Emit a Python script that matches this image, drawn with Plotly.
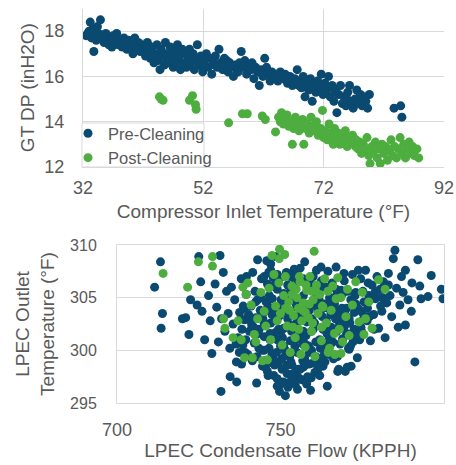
import plotly.graph_objects as go

# ---------------- Top chart: GT DP vs Compressor Inlet Temperature ----------------
pre_cit = [32.5, 32.8, 33.0, 33.2, 33.4, 33.6, 33.8, 34.0, 34.2, 34.4, 34.6, 34.9, 35.2, 35.5, 35.8, 36.0, 36.3, 36.5,
           36.8, 37.0, 37.3, 37.6, 37.9, 38.2, 38.5, 38.8, 39.0, 39.3, 39.6, 40.0, 40.3, 40.6, 40.9, 41.2, 41.5, 41.8,
           42.1, 42.4, 42.7, 43.0, 43.2, 43.5, 43.8, 44.0, 44.3, 44.5, 44.8, 45.0, 45.2, 45.5, 45.7, 46.0, 46.2, 46.5,
           46.7, 47.0, 47.2, 47.5, 47.7, 48.0, 48.2, 48.5, 48.7, 49.0, 49.2, 49.5, 49.7, 50.0, 50.3, 50.5,
           50.8, 51.0, 51.3, 51.6, 51.9, 52.2, 52.5, 52.8, 53.1, 53.4, 53.7, 54.0, 54.3, 54.6, 54.9, 55.2, 55.5, 55.8,
           56.1, 56.4, 56.7, 57.0, 57.3, 57.6,
           58.0, 58.3, 58.6, 58.9, 59.2, 59.5, 59.8, 60.1, 60.4, 60.7, 61.0, 61.3, 61.6, 61.9, 62.2, 62.5, 62.8, 63.1,
           63.4, 63.7,
           64.0, 64.4, 64.8, 65.2, 65.6, 66.0, 66.4, 66.8, 67.2, 67.6, 68.0, 68.3, 68.6, 68.9, 69.2, 69.5, 69.8, 70.1,
           70.4, 70.7, 71.0, 71.3, 71.6, 71.9,
           72.2, 72.5, 72.8, 73.1, 73.4, 73.7, 74.0, 74.2, 74.5, 74.8, 75.1, 75.4, 75.7, 76.0, 76.3, 76.6, 76.9, 77.2,
           77.5, 77.8, 78.1, 78.4, 78.7, 79.0, 79.3, 79.6,
           83.7, 84.8, 85.0,
           34.6, 37.2, 39.8, 41.0, 43.6, 45.9, 47.9, 49.9, 52.0, 53.9, 55.9, 57.8, 59.9, 61.8, 63.9, 65.9, 67.9, 69.9,
           71.8, 73.9, 75.9, 77.9]
pre_dp = [17.8, 17.9, 18.0, 18.4, 17.7, 18.1, 17.1, 17.9, 17.6, 18.2, 17.8, 18.5, 17.7, 17.5, 17.9, 17.6, 17.4, 17.7,
          17.3, 17.8, 17.5, 17.9, 17.4, 17.6, 17.3, 17.7, 17.5, 17.2, 17.6, 17.4, 17.0, 17.7, 17.3, 17.5, 17.1, 17.4,
          17.2, 16.9, 17.5, 17.1, 16.8, 17.3, 16.6, 17.0, 17.4, 16.7, 16.3, 17.2, 16.9, 16.5, 17.5, 17.0, 16.6, 17.3,
          16.8, 16.4, 17.1, 16.7, 17.4, 16.9, 16.3, 17.2, 16.6, 17.0, 16.4, 16.8, 17.2, 16.6, 17.0, 16.3,
          16.8, 17.4, 16.5, 16.9, 16.2, 16.7, 17.0, 16.4, 16.8, 16.1, 16.6, 16.9, 16.4, 17.2, 16.6, 16.3, 16.8, 16.5,
          16.2, 16.6, 16.4, 16.0, 16.5, 16.3,
          16.6, 17.1, 16.4, 16.7, 16.1, 16.5, 16.3, 16.6, 15.9, 16.4, 16.2, 15.6, 16.3, 16.0, 16.8, 16.4, 16.1, 15.8,
          16.2, 16.0,
          16.1, 15.8, 16.2, 15.9, 16.1, 15.7, 16.0, 15.6, 15.9, 16.3, 15.8, 15.5, 16.0, 15.1, 15.7, 15.4, 15.9, 14.9,
          15.6, 15.3, 15.8, 15.5, 16.1, 15.2,
          15.7, 15.4, 16.0, 15.1, 15.6, 14.9, 15.4, 14.4, 15.2, 15.6, 14.8, 15.1, 14.7, 15.3, 15.6, 14.9, 14.6, 15.0,
          15.4, 14.8, 15.2, 14.7, 15.1, 14.9, 14.6, 15.2,
          14.6, 14.7, 14.2,
          17.9, 17.6, 17.3, 17.2, 16.9, 16.8, 16.5, 16.9, 16.4, 16.5, 16.7, 16.2, 16.3, 16.1, 15.9, 15.9, 15.6, 15.5,
          15.4, 15.3, 15.0, 14.9]

post_cit = [44.7, 45.0, 45.3, 49.7, 50.2, 50.7, 50.8, 56.2, 58.5, 59.3, 61.8, 62.3, 64.0,
            64.5, 64.8, 65.0, 65.3, 65.6, 65.9, 66.2, 66.5, 66.8, 67.0, 67.3, 67.6, 67.9, 68.2, 68.5, 68.7, 69.0,
            69.3, 69.6, 69.9, 70.2, 70.5, 70.8, 71.1, 71.5, 71.8, 72.0,
            72.3, 72.6, 72.9, 73.2, 73.5, 73.8, 74.1, 74.4, 74.7, 75.0, 75.3, 75.6, 75.9, 76.2, 76.5, 76.8, 77.1,
            77.4, 77.7, 78.0,
            78.3, 78.6, 78.9, 79.2, 79.5, 79.7, 80.0, 80.3, 80.6, 80.9, 81.2, 81.4, 81.7, 82.0, 82.3, 82.6, 82.9,
            83.2, 83.5, 83.8, 84.1, 84.4, 84.7, 85.0, 85.3, 85.6, 85.9, 86.2, 86.5, 86.8, 87.1, 87.5, 87.8,
            72.8, 73.6, 74.9, 76.1, 77.3, 78.8, 80.8, 83.0]
post_dp = [15.1, 15.0, 14.95, 14.95, 15.15, 14.75, 14.55, 13.95, 14.35, 14.35, 14.25, 14.1, 13.55,
           14.2, 14.0, 14.4, 13.9, 14.1, 14.3, 13.8, 14.0, 13.0, 13.7, 14.2, 13.9, 13.6, 13.8, 14.1, 13.0, 13.7,
           13.9, 13.5, 14.2, 13.8, 13.6, 14.0, 13.4, 13.7, 14.5, 13.3,
           13.6, 13.2, 13.9, 13.4, 13.1, 13.7, 13.3, 13.5, 13.0, 13.4, 13.2, 13.6, 12.9, 13.3, 13.1, 13.4, 13.0,
           13.2, 12.8, 13.1,
           12.6, 13.0, 12.8, 13.3, 12.5, 12.15, 12.9, 12.7, 13.1, 12.4, 12.8, 12.15, 13.0, 12.6, 12.9, 12.3, 12.7,
           13.2, 12.5, 12.9, 12.4, 12.8, 13.3, 12.6, 13.0, 12.4, 12.8, 13.1, 12.6, 12.9, 12.5, 12.8, 12.4,
           13.5, 13.0, 13.2, 13.0, 12.9, 12.7, 12.9, 12.8]

# ---------------- Bottom chart: LPEC Outlet Temperature vs Condensate Flow ----------------
pre_flow = [711.5, 713.3, 713.9, 713.5, 720.0, 721.0, 722.0, 722.5, 725.0, 725.6, 726.0, 726.8, 724.5, 728.0,
            728.5, 729.0, 730.0, 730.5, 731.0, 731.5, 731.8, 732.0, 732.5, 733.0, 733.5, 734.0, 734.5, 735.0,
            735.5, 736.0, 736.5, 737.0, 737.5, 738.0, 738.1, 738.5, 739.0, 739.5, 740.0, 740.5, 741.0, 741.5,
            742.0, 742.5, 742.7, 743.0, 743.5, 744.0, 744.5, 745.0, 734.6, 736.6,
            745.5, 746.0, 746.2, 746.5, 747.0, 747.0, 747.5, 748.0, 748.5, 748.5, 749.0, 749.0, 749.5, 749.7,
            750.0, 750.0, 750.5, 751.0, 751.0, 751.5, 751.5, 752.0, 752.0, 752.5, 753.0, 753.0, 753.5, 754.0,
            754.0, 754.5, 755.0, 755.0, 755.5, 756.0, 756.0, 756.5, 757.0, 757.0, 757.4, 757.5, 758.0, 758.0,
            758.5, 758.8, 759.0, 759.5, 760.0, 760.0, 760.5, 761.0, 761.0, 761.5, 762.0, 762.5, 763.0, 763.0,
            763.5, 764.0, 764.3, 764.5, 765.0, 765.0,
            750.8, 752.3, 753.8, 755.2, 756.6, 758.3, 759.2, 753.2, 756.8,
            765.5, 766.0, 766.5, 767.0, 767.5, 768.0, 768.5, 769.0, 769.5, 770.0, 770.4, 771.0, 771.5, 772.0,
            772.5, 773.0, 773.5, 774.0, 774.5, 775.0, 775.5, 776.0, 776.5, 777.0, 777.5, 778.0, 778.5, 779.0,
            779.5, 780.0, 780.5, 781.0, 781.5, 782.0, 782.5, 783.0, 783.5, 784.0, 784.5, 785.0,
            785.5, 786.0, 786.5, 787.0, 787.5, 788.2, 788.2, 789.0, 790.0, 790.2, 791.1, 792.0, 792.6, 793.0,
            795.1, 796.1, 799.2, 799.7,
            747.8, 749.2, 750.6, 752.8, 754.6, 755.8, 757.8, 759.6, 761.8, 762.8, 764.6, 766.8, 768.8, 770.6,
            772.6, 774.6, 776.6, 778.6, 780.6, 744.6, 742.4, 740.6, 738.6, 746.6, 748.6, 751.8, 754.2, 762.4,
            765.8, 769.4, 773.8, 776.8, 739.6, 745.8,
            766.2, 767.8, 769.8, 771.6, 745.2, 747.6, 760.8, 763.6, 767.2, 770.8, 741.8, 744.2,
            741.2, 743.2, 745.0, 746.8, 748.2, 750.2, 752.2, 754.4, 756.4, 758.6, 760.4, 762.2, 764.2, 766.4,
            768.2, 770.2, 772.2, 774.2, 743.8, 745.6, 747.4, 749.4, 751.4, 753.4, 755.4, 757.2, 759.4, 761.4,
            763.4, 765.4, 767.4, 769.2, 771.2, 773.2, 775.2, 777.2, 779.2, 781.2, 748.2, 750.4, 752.6, 754.8,
            756.8, 758.8, 760.6, 762.6, 746.4, 759.8, 737.8, 739.2,
            736.4, 738.2, 740.2, 742.2, 744.2, 746.2, 748.2, 750.2, 752.2, 754.2, 756.2, 758.2, 760.2, 762.2,
            764.2, 766.2, 768.2, 770.2,
            737.4, 739.4, 741.4, 743.4, 745.4, 747.4, 749.4, 751.4, 753.4, 755.4, 757.4, 759.4, 761.4, 763.4,
            765.4, 767.4, 769.4, 771.4, 773.4, 775.4,
            745.0, 747.0, 749.0, 751.0, 753.0, 755.0, 757.0, 759.0, 761.0, 763.0, 765.0, 767.0, 769.0, 771.0,
            773.0, 775.0, 777.0, 779.0, 781.0, 783.0,
            740.8, 742.8, 744.8, 746.8, 748.8, 750.8, 752.8, 754.8, 756.8, 758.8, 760.8, 762.8, 764.8, 766.8,
            768.8, 770.8, 772.8, 774.8,
            739.0, 741.0, 743.0, 745.0, 747.0, 749.0, 751.0, 753.0, 755.0, 757.0, 759.0, 761.0, 763.0, 765.0,
            767.0, 769.0,
            746.0, 748.0, 750.0, 752.0, 754.0, 756.0, 758.0, 760.0, 762.0, 749.0, 751.5, 754.5, 757.5]
pre_temp = [306.0, 308.4, 303.5, 302.1, 303.0, 303.1, 301.5, 304.8, 308.9, 306.5, 303.7, 301.0, 304.3, 305.2,
            302.8, 299.7, 306.3, 304.1, 300.8, 309.0, 296.1, 303.0, 307.4, 301.8, 305.6, 303.5, 300.2, 306.0,
            302.5, 304.8, 298.9, 301.2, 303.6, 306.8, 298.7, 300.5, 302.9, 305.3, 299.6, 301.8, 304.2, 307.4,
            300.7, 303.1, 296.9, 308.6, 302.0, 305.0, 298.5, 301.3, 297.5, 297.0,
            303.8, 306.3, 297.6, 300.2, 308.2, 302.6, 304.9, 299.1, 308.9, 301.7, 305.8, 297.3, 303.2, 296.1,
            300.4, 306.9, 298.2, 302.1, 304.6, 295.7, 299.5, 307.3, 297.8, 303.5, 300.9, 305.6, 298.6, 302.4,
            297.0, 306.6, 304.1, 299.8, 297.4, 301.5, 307.8, 303.0, 298.4, 305.2, 308.4, 300.6, 296.8, 302.7,
            306.0, 298.7, 304.3, 300.0, 307.0, 302.0, 297.9, 305.3, 299.3, 303.6, 301.0, 306.6, 298.5, 304.0,
            300.5, 302.8, 296.6, 307.5, 299.6, 305.0,
            297.0, 296.5, 297.6, 296.3, 297.2, 297.5, 296.2, 298.9, 299.0,
            302.2, 300.8, 304.4, 307.9, 298.0, 302.6, 305.7, 301.1, 306.6, 303.3, 298.4, 300.1, 304.8, 307.2,
            302.0, 305.5, 299.3, 303.9, 306.8, 301.5, 304.6, 307.6, 302.8, 305.2, 300.9, 306.2, 303.4, 304.9,
            307.0, 302.1, 305.8, 303.7, 306.5, 301.2, 304.5, 307.3, 305.2, 303.2, 308.7, 309.5,
            305.9, 302.2, 304.3, 307.0, 305.5, 307.6, 302.4, 304.8, 303.7, 306.4, 298.9, 308.6, 306.1, 304.9,
            305.1, 307.1, 305.8, 304.9,
            306.9, 304.0, 301.2, 305.0, 301.0, 303.3, 301.4, 303.0, 304.8, 302.2, 304.0, 303.0, 304.0, 305.6,
            303.6, 302.2, 304.0, 302.0, 304.2, 303.0, 304.6, 303.2, 304.2, 305.2, 303.0, 307.4, 307.7, 307.9,
            306.4, 307.3, 307.6, 306.4, 307.0, 308.5,
            299.2, 298.2, 298.0, 298.5, 299.0, 298.8, 299.4, 298.9, 301.8, 300.2, 302.2, 300.0,
            302.4, 301.6, 300.0, 301.0, 302.8, 301.8, 303.0, 300.4, 301.2, 300.4, 302.6, 300.2, 301.6, 302.0,
            300.6, 301.6, 300.8, 301.0, 303.8, 304.6, 303.4, 302.0, 300.0, 301.8, 302.8, 304.4, 301.8, 305.8,
            304.4, 303.4, 305.4, 302.8, 302.6, 301.4, 305.6, 303.2, 305.6, 305.0, 298.6, 299.2, 299.6, 298.0,
            300.6, 299.8, 298.8, 299.0, 307.4, 306.2, 303.0, 299.8,
            300.6, 302.0, 303.4, 305.6, 306.8, 304.2, 306.2, 304.8, 306.2, 305.0, 306.8, 303.8, 305.6, 303.8,
            306.0, 305.0, 303.6, 304.0,
            299.8, 301.0, 299.0, 300.2, 298.4, 299.6, 298.8, 300.0, 297.4, 298.2, 299.2, 297.4, 298.2, 299.6,
            300.6, 299.4, 302.2, 300.4, 301.2, 303.0,
            307.0, 307.6, 307.2, 305.4, 307.0, 307.4, 306.8, 306.4, 307.6, 306.0, 304.6, 305.8, 303.0, 303.0,
            304.4, 303.6, 303.2, 305.6, 305.0, 306.2,
            302.8, 299.4, 303.6, 301.6, 299.8, 303.6, 299.4, 304.4, 301.0, 303.8, 300.8, 303.2, 301.0, 303.8,
            302.8, 302.6, 305.2, 301.8,
            304.0, 302.8, 304.8, 302.6, 303.8, 301.0, 300.4, 302.2, 302.6, 301.8, 302.8, 304.2, 302.0, 301.2,
            303.4, 305.4,
            298.0, 297.6, 296.8, 298.6, 297.8, 298.2, 297.0, 298.8, 297.6, 296.6, 296.9, 296.8, 298.6]

post_flow = [714.1, 721.6, 724.9, 729.2, 729.2, 747.4, 749.7, 751.3, 749.6, 760.3, 741.4, 746.0, 768.5, 775.5,
             778.0, 780.0, 782.0, 733.0, 735.5, 732.6,
             738.5, 739.5, 740.0, 741.0, 742.0, 742.5, 743.0, 744.0, 745.0, 745.5, 746.5, 747.0, 748.0, 748.5,
             749.0, 749.5, 750.0, 750.5, 751.0, 751.5, 752.0, 752.5, 753.0, 753.5, 754.0, 754.5, 755.0, 755.5,
             756.0, 756.5, 757.0, 757.5, 758.0, 758.5, 759.0, 759.5, 760.0, 760.5, 761.0, 761.5, 762.0, 762.5,
             763.0, 763.5, 764.0, 764.5, 765.0, 765.5, 766.0, 766.5, 767.0, 767.5, 768.0, 768.5, 769.0, 770.0,
             770.5, 771.0, 772.0, 773.0, 774.0, 775.0, 776.0, 777.0, 737.0, 738.0, 739.0, 744.5, 756.2, 753.6,
             757.6, 755.6, 751.6, 759.6, 762.6, 764.6, 766.6,
             752.8, 754.8, 756.8, 758.8, 760.8, 762.8, 755.8, 757.8, 759.8, 753.8]
post_temp = [307.3, 306.0, 308.4, 308.9, 308.0, 309.0, 309.6, 309.1, 308.7, 309.4, 299.3, 299.1, 299.7, 301.5,
             302.1, 306.7, 305.8, 302.1, 301.2, 303.0,
             306.0, 305.3, 306.4, 304.3, 301.5, 300.8, 303.0, 305.5, 303.7, 302.3, 305.9, 301.0, 307.2, 304.2,
             302.8, 306.4, 303.5, 300.5, 305.2, 307.0, 302.3, 304.6, 299.8, 306.1, 303.3, 301.2, 305.0, 304.0,
             306.5, 302.8, 304.5, 300.3, 305.7, 303.1, 307.0, 301.8, 304.8, 299.4, 306.2, 303.5, 305.3, 300.9,
             304.1, 306.8, 302.6, 305.6, 300.2, 303.8, 306.1, 301.6, 304.9, 306.9, 302.0, 305.0, 300.8, 303.2,
             305.8, 301.4, 304.3, 306.5, 302.7, 305.5, 303.0, 304.6, 302.8, 301.0, 299.3, 299.0, 299.6, 305.3,
             303.6, 302.0, 304.0, 305.6, 302.2, 299.8, 299.6,
             303.8, 305.8, 303.8, 304.4, 305.6, 304.2, 307.0, 306.2, 302.6, 302.2]

# ---------------- Styling ----------------
NAVY = "#0b4a70"
GREEN = "#4dae3f"
GRID = "#d9d9d9"
TXT = "#595959"
FONT = "Liberation Sans, Arial, sans-serif"
W, H = 456, 465
MS = 9

fig = go.Figure()
fig.add_trace(go.Scatter(x=pre_cit, y=pre_dp, mode="markers", name="Pre-Cleaning",
                         marker=dict(color=NAVY, size=MS), xaxis="x", yaxis="y"))
fig.add_trace(go.Scatter(x=post_cit, y=post_dp, mode="markers", name="Post-Cleaning",
                         marker=dict(color=GREEN, size=MS), xaxis="x", yaxis="y"))
fig.add_trace(go.Scatter(x=pre_flow, y=pre_temp, mode="markers", name="Pre-Cleaning", showlegend=False,
                         marker=dict(color=NAVY, size=MS), xaxis="x2", yaxis="y2"))
fig.add_trace(go.Scatter(x=post_flow, y=post_temp, mode="markers", name="Post-Cleaning", showlegend=False,
                         marker=dict(color=GREEN, size=MS), xaxis="x2", yaxis="y2"))

tick_font = dict(family=FONT, size=18, color=TXT)
tick_font_small = dict(family=FONT, size=16, color=TXT)
title_font = dict(family=FONT, size=19, color=TXT)

fig.update_layout(
    template="none",
    width=W, height=H,
    margin=dict(l=0, r=0, t=0, b=0, autoexpand=False),
    paper_bgcolor="white", plot_bgcolor="white",
    font=dict(family=FONT, size=16, color=TXT),
    showlegend=True,
    legend=dict(x=68 / W, y=1 - 116 / H, xanchor="left", yanchor="top",
                bgcolor="rgba(0,0,0,0)", borderwidth=0,
                font=dict(family=FONT, size=16.5, color=TXT),
                tracegroupgap=0, itemwidth=30),
    xaxis=dict(domain=[83 / W, 444 / W], range=[32, 92], tickvals=[32, 52, 72, 92],
               showgrid=True, gridcolor=GRID, gridwidth=1, zeroline=False, automargin=False,
               showline=True, linecolor=GRID, linewidth=1, ticks="",
               tickfont=tick_font, ticklabelstandoff=4,
               title=dict(text="Compressor Inlet Temperature (°F)", font=title_font, standoff=8),
               anchor="y"),
    yaxis=dict(domain=[1 - 167 / H, 1 - 8.5 / H], range=[12, 19], tickvals=[12, 14, 16, 18],
               showgrid=True, gridcolor=GRID, gridwidth=1, zeroline=False, automargin=False,
               showline=True, linecolor=GRID, linewidth=1, ticks="",
               tickfont=tick_font, ticklabelstandoff=14,
               title=dict(text="GT DP (inH2O)", font=title_font, standoff=4),
               anchor="x"),
    xaxis2=dict(domain=[117 / W, 444 / W], range=[700, 800], tickvals=[700, 750, 800],
                showgrid=False, zeroline=False, automargin=False,
                showline=True, linecolor=GRID, linewidth=1, mirror=True, ticks="",
                tickfont=tick_font, ticklabelstandoff=10,
                title=dict(text="LPEC Condensate Flow (KPPH)", font=title_font, standoff=3),
                anchor="y2"),
    yaxis2=dict(domain=[1 - 403 / H, 1 - 245 / H], range=[295, 310], tickvals=[295, 300, 305, 310],
                showgrid=True, gridcolor=GRID, gridwidth=1, zeroline=False, automargin=False,
                showline=True, linecolor=GRID, linewidth=1, mirror=True, ticks="",
                tickfont=tick_font_small, ticklabelstandoff=16,
                title=dict(text="LPEC Outlet<br>Temperature (°F)", font=title_font, standoff=10),
                anchor="x2"),
    shapes=[dict(type="rect", xref="paper", yref="paper",
                 x0=82 / W, x1=204 / W, y0=1 - 167 / H, y1=1 - 123 / H,
                 fillcolor="white", line=dict(color=GRID, width=1), layer="above")],
)

# remove the default 8px page margin so the figure sits at the top-left corner of the window
fig.write_html("out.html", config={"displayModeBar": False},
               post_script="document.body.style.margin='0px';")
